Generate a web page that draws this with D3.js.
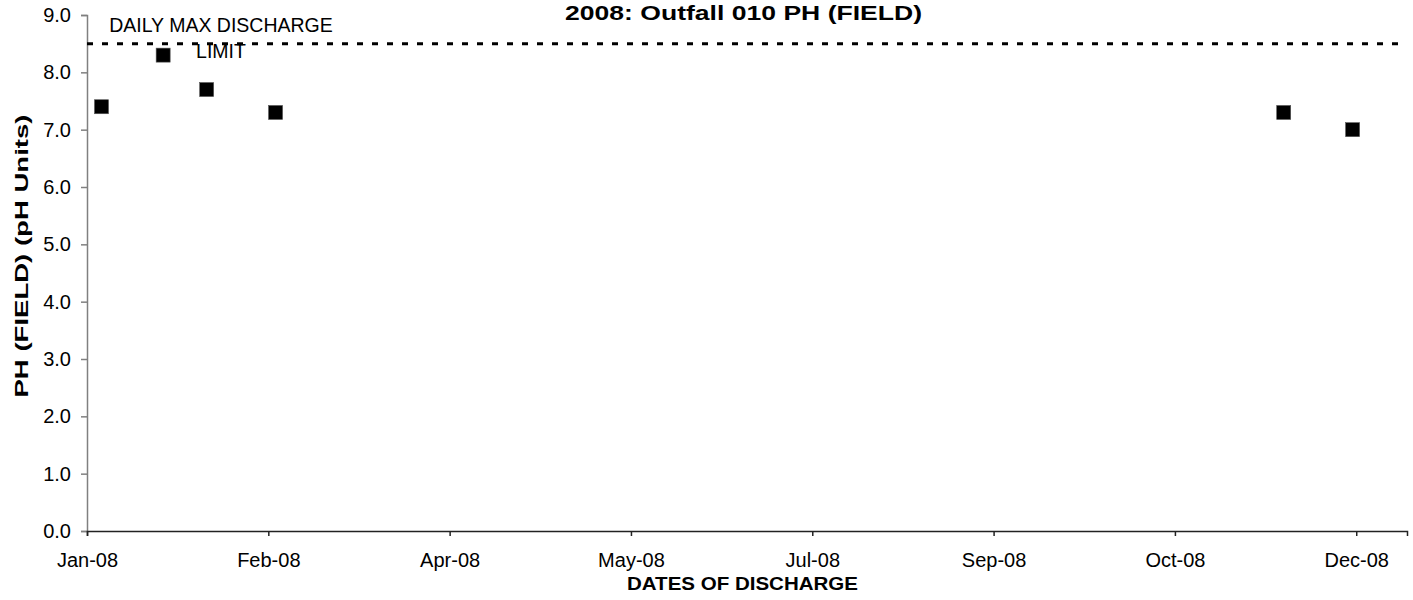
<!DOCTYPE html>
<html>
<head>
<meta charset="utf-8">
<script src="https://cdn.jsdelivr.net/npm/d3@7"></script>
<style>
  body { margin: 0; background: #fff; }
  svg { display: block; font-family: "Liberation Sans", Arial, sans-serif; }
</style>
</head>
<body>
<svg></svg>
<script>
// chart data
const sampleDates = ["2008-01-05", "2008-01-22", "2008-02-03", "2008-02-22", "2008-11-26", "2008-12-15"];
const phValues = [7.4, 8.3, 7.7, 7.3, 7.3, 7.0];
const xTickDates = ["2008-01-01", "2008-02-20", "2008-04-10", "2008-05-30", "2008-07-19", "2008-09-07", "2008-10-27", "2008-12-16"];
const xDomain = ["2008-01-01", "2008-12-30"];
const yTicks = [0, 1, 2, 3, 4, 5, 6, 7, 8, 9];
const limitValue = 8.5;
const limitLabel = ["DAILY MAX DISCHARGE", "LIMIT"];
const chartTitle = "2008: Outfall 010 PH (FIELD)";
const xTitle = "DATES OF DISCHARGE";
const yTitle = "PH (FIELD) (pH Units)";

function makeChart() {
    let svgWidth = 1413;
    let svgHeight = 600;
    let left = 87, right = 1407, top = 15, bottom = 531;

    let parse = d3.timeParse("%Y-%m-%d");
    let data = sampleDates.map((d, i) => ({date: parse(d), ph: phValues[i]}));

    let svg = d3.select('svg')
        .attr("width", svgWidth)
        .attr("height", svgHeight);

    let scaledX = d3.scaleTime()
        .domain(xDomain.map(parse))
        .range([left, right]);

    let scaledY = d3.scaleLinear()
        .domain([0, 9])
        .range([bottom, top]);

    // y axis
    let axsLeft = d3.axisLeft(scaledY)
        .tickValues(yTicks)
        .tickFormat(d3.format(".1f"))
        .tickSizeOuter(0)
        .tickSize(6)
        .tickPadding(10);
    let gy = svg.append('g')
        .attr('transform', 'translate(' + left + ',0)')
        .call(axsLeft);
    gy.select('.domain').attr('stroke', '#808080').attr('stroke-width', 1.5);
    gy.selectAll('.tick line').attr('stroke', '#808080').attr('stroke-width', 1.5);
    gy.selectAll('.tick text')
        .attr('font-size', 20)
        .attr('font-family', '"Liberation Sans", Arial, sans-serif')
        .attr('fill', '#000');

    // x axis
    let axsBottom = d3.axisBottom(scaledX)
        .tickValues(xTickDates.map(parse))
        .tickFormat(d3.timeFormat("%b-%y"))
        .tickSizeOuter(0)
        .tickSize(5)
        .tickPadding(17);
    let gx = svg.append('g')
        .attr('transform', 'translate(0,' + bottom + ')')
        .call(axsBottom);
    gx.select('.domain').attr('stroke', '#222').attr('stroke-width', 1.5);
    gx.selectAll('.tick line').attr('stroke', '#222').attr('stroke-width', 1.5);
    gx.selectAll('.tick text')
        .attr('font-size', 20)
        .attr('font-family', '"Liberation Sans", Arial, sans-serif')
        .attr('fill', '#000');

    // limit line
    svg.append('line')
        .attr('x1', left)
        .attr('x2', right)
        .attr('y1', scaledY(limitValue))
        .attr('y2', scaledY(limitValue))
        .attr('stroke', '#000')
        .attr('stroke-width', 3)
        .attr('stroke-dasharray', '6,9');

    svg.append('text')
        .attr('x', 221)
        .attr('y', 32)
        .attr('text-anchor', 'middle')
        .attr('font-size', 19.5)
        .selectAll('tspan')
        .data(limitLabel).enter().append('tspan')
        .attr('x', 221)
        .attr('dy', (d, i) => i === 0 ? 0 : 26)
        .text(d => d);

    // points
    svg.append('g').selectAll('rect')
        .data(data).enter().append('rect')
        .attr('x', d => scaledX(d.date) - 7)
        .attr('y', d => scaledY(d.ph) - 7)
        .attr('width', 14)
        .attr('height', 14)
        .attr('fill', '#000')
        .attr('stroke', '#555')
        .attr('stroke-width', 0.6);

    // titles
    svg.append('text')
        .attr('x', 743.5)
        .attr('y', 19.5)
        .attr('text-anchor', 'middle')
        .attr('font-size', 21)
        .attr('font-weight', 'bold')
        .attr('textLength', 357)
        .attr('lengthAdjust', 'spacingAndGlyphs')
        .text(chartTitle);

    svg.append('text')
        .attr('x', 742.5)
        .attr('y', 590)
        .attr('text-anchor', 'middle')
        .attr('font-size', 19)
        .attr('font-weight', 'bold')
        .attr('textLength', 231)
        .attr('lengthAdjust', 'spacingAndGlyphs')
        .text(xTitle);

    svg.append('text')
        .attr('transform', 'translate(28,256) rotate(-90)')
        .attr('text-anchor', 'middle')
        .attr('font-size', 19)
        .attr('font-weight', 'bold')
        .attr('textLength', 283)
        .attr('lengthAdjust', 'spacingAndGlyphs')
        .text(yTitle);
}

makeChart();
</script>
</body>
</html>
